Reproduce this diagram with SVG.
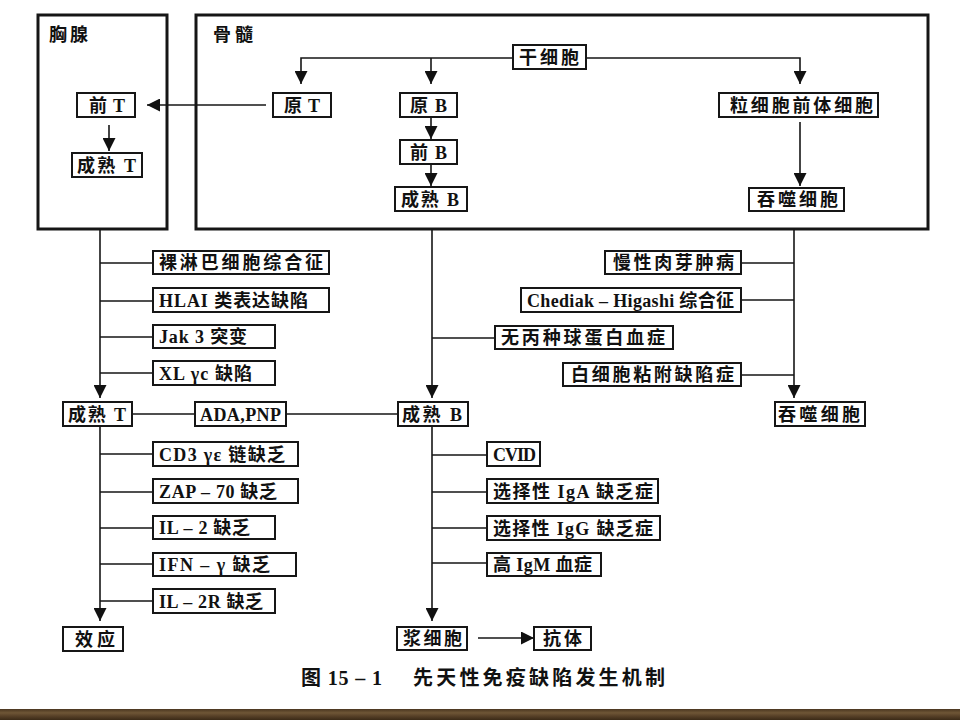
<svg xmlns="http://www.w3.org/2000/svg" width="960" height="720" viewBox="0 0 960 720">
<style>
.region{fill:none;stroke:#161616;stroke-width:3}
.box{fill:#fff;stroke:#161616;stroke-width:2}
.t{font-family:"Liberation Serif","Noto Sans CJK SC",serif;font-weight:bold;font-size:18px;fill:#111}
.cap{font-family:"Liberation Serif","Noto Sans CJK SC",sans-serif;font-weight:bold;font-size:20px;fill:#111}
.c{fill:none;stroke:#161616;stroke-width:1.6}
.a{marker-end:url(#ah)}
</style>
<defs>
<marker id="ah" viewBox="0 0 13 13" refX="13" refY="6.5" markerWidth="13" markerHeight="13" orient="auto" markerUnits="userSpaceOnUse"><path d="M0,0 L13,6.5 L0,13 z" fill="#111"/></marker>
<linearGradient id="wood" x1="0" y1="0" x2="0" y2="1">
<stop offset="0" stop-color="#4a3620"/><stop offset="0.35" stop-color="#6f5636"/><stop offset="0.6" stop-color="#5a4329"/><stop offset="1" stop-color="#3b2a17"/>
</linearGradient>
</defs>
<rect width="960" height="720" fill="#fff"/>

<g id="thymus"><rect class="region" x="38" y="15" width="129" height="214"/><text class="t" x="49" y="41" textLength="39">胸腺</text></g>
<g id="marrow"><rect class="region" x="196" y="15" width="732" height="214"/><text class="t" x="213" y="41" textLength="40">骨髓</text></g>

<g id="connectors">
<path class="c a" d="M431,58 H301 V84"/>
<path class="c a" d="M431,58 V84"/>
<path class="c a" d="M431,58 H800 V84"/>
<path class="c a" d="M266,105 H147"/>
<path class="c a" d="M109,125 V151"/>
<path class="c a" d="M431,117 V139"/>
<path class="c a" d="M431,164 V186"/>
<path class="c a" d="M800,122 V186"/>
<path class="c a" d="M100,229 V398"/>
<path class="c" d="M100,263 H153 M100,301 H153 M100,337 H153 M100,373 H153"/>
<path class="c a" d="M432,229 V398"/>
<path class="c" d="M432,338 H495"/>
<path class="c a" d="M794,229 V398"/>
<path class="c" d="M741,263 H794 M741,300 H794 M741,375 H794"/>
<path class="c" d="M132,414 H195 M286,414 H398"/>
<path class="c a" d="M100,426 V621"/>
<path class="c" d="M100,454 H153 M100,492 H153 M100,528 H153 M100,564 H153 M100,601 H153"/>
<path class="c a" d="M432,426 V621"/>
<path class="c" d="M432,455 H487 M432,492 H487 M432,528 H487 M432,563 H487"/>
<path class="c a" d="M478,638 H534"/>
</g>

<g id="stem"><rect class="box" x="513" y="45" width="73" height="24"/><text class="t" x="519" y="63.5" textLength="60">干细胞</text></g>
<g id="preT"><rect class="box" x="77" y="93" width="58" height="24"/><text class="t" x="89" y="111.5" textLength="36">前 T</text></g>
<g id="matureT1"><rect class="box" x="72" y="153" width="70" height="24"/><text class="t" x="77" y="171.5" textLength="59">成熟 T</text></g>
<g id="proT"><rect class="box" x="273" y="93" width="58" height="24"/><text class="t" x="284" y="111.5" textLength="36">原 T</text></g>
<g id="proB"><rect class="box" x="400" y="93" width="57" height="24"/><text class="t" x="410" y="111.5" textLength="37">原 B</text></g>
<g id="preB"><rect class="box" x="400" y="140" width="57" height="24"/><text class="t" x="410" y="158.5" textLength="37">前 B</text></g>
<g id="matureB1"><rect class="box" x="395" y="187" width="72" height="24"/><text class="t" x="401" y="205.5" textLength="58">成熟 B</text></g>
<g id="granPre"><rect class="box" x="719" y="93" width="159" height="24"/><text class="t" x="730" y="111.5" textLength="143">粒细胞前体细胞</text></g>
<g id="phago1"><rect class="box" x="749" y="188" width="95" height="23"/><text class="t" x="757" y="206" textLength="81">吞噬细胞</text></g>

<g id="bareLym"><rect class="box" x="153" y="251" width="176" height="23"/><text class="t" x="159" y="269" textLength="164">裸淋巴细胞综合征</text></g>
<g id="hla"><rect class="box" x="153" y="288" width="176" height="24"/><text class="t" x="159" y="306.5" textLength="149">HLAI 类表达缺陷</text></g>
<g id="jak3"><rect class="box" x="153" y="325" width="122" height="23"/><text class="t" x="159" y="343" textLength="88">Jak 3 突变</text></g>
<g id="xl"><rect class="box" x="153" y="361" width="122" height="24"/><text class="t" x="159" y="379.5" textLength="93">XL γc 缺陷</text></g>

<g id="cgd"><rect class="box" x="605" y="251" width="136" height="23"/><text class="t" x="613" y="269" textLength="121">慢性肉芽肿病</text></g>
<g id="chs"><rect class="box" x="521" y="288" width="220" height="24"/><text class="t" x="527" y="306.5" textLength="207">Chediak – Higashi 综合征</text></g>
<g id="agamma"><rect class="box" x="495" y="326" width="178" height="23"/><text class="t" x="501" y="344" textLength="164">无丙种球蛋白血症</text></g>
<g id="lad"><rect class="box" x="563" y="363" width="178" height="23"/><text class="t" x="571" y="381" textLength="163">白细胞粘附缺陷症</text></g>

<g id="matureT2"><rect class="box" x="63" y="402" width="69" height="24"/><text class="t" x="68" y="420.5" textLength="58">成熟 T</text></g>
<g id="adapnp"><rect class="box" x="195" y="402" width="91" height="24"/><text class="t" x="200" y="420.5" textLength="81">ADA,PNP</text></g>
<g id="matureB2"><rect class="box" x="398" y="402" width="70" height="24"/><text class="t" x="402" y="420.5" textLength="60">成熟 B</text></g>
<g id="phago2"><rect class="box" x="775" y="402" width="90" height="24"/><text class="t" x="778" y="420.5" textLength="82">吞噬细胞</text></g>

<g id="cd3"><rect class="box" x="153" y="442" width="145" height="24"/><text class="t" x="159" y="460.5" textLength="126">CD3 γε 链缺乏</text></g>
<g id="zap70"><rect class="box" x="153" y="479" width="145" height="24"/><text class="t" x="159" y="497.5" textLength="118">ZAP – 70 缺乏</text></g>
<g id="il2"><rect class="box" x="153" y="516" width="122" height="23"/><text class="t" x="159" y="534" textLength="91">IL – 2 缺乏</text></g>
<g id="ifn"><rect class="box" x="153" y="553" width="143" height="23"/><text class="t" x="159" y="571" textLength="111">IFN –  γ 缺乏</text></g>
<g id="il2r"><rect class="box" x="153" y="589" width="122" height="24"/><text class="t" x="159" y="607.5" textLength="104">IL – 2R 缺乏</text></g>
<g id="effect"><rect class="box" x="63" y="627" width="60" height="24"/><text class="t" x="75" y="645.5" textLength="40">效应</text></g>

<g id="cvid"><rect class="box" x="487" y="442" width="53" height="24"/><text class="t" x="493" y="460.5" textLength="43">CVID</text></g>
<g id="iga"><rect class="box" x="487" y="479" width="171" height="24"/><text class="t" x="493" y="497.5" textLength="160">选择性 IgA 缺乏症</text></g>
<g id="igg"><rect class="box" x="487" y="516" width="173" height="24"/><text class="t" x="493" y="534.5" textLength="160">选择性 IgG 缺乏症</text></g>
<g id="igm"><rect class="box" x="487" y="553" width="114" height="23"/><text class="t" x="493" y="571" textLength="99">高 IgM 血症</text></g>
<g id="plasma"><rect class="box" x="397" y="627" width="70" height="23"/><text class="t" x="403" y="645" textLength="59">浆细胞</text></g>
<g id="antibody"><rect class="box" x="534" y="627" width="57" height="23"/><text class="t" x="543" y="645" textLength="39">抗体</text></g>

<g id="caption">
<text class="cap" x="301" y="685" textLength="81">图 15 – 1</text>
<text class="cap" x="413" y="685" textLength="252" style="font-family:'Noto Sans CJK SC',sans-serif">先天性免疫缺陷发生机制</text>
</g>
<rect x="0" y="709" width="960" height="11" fill="url(#wood)"/>
</svg>
